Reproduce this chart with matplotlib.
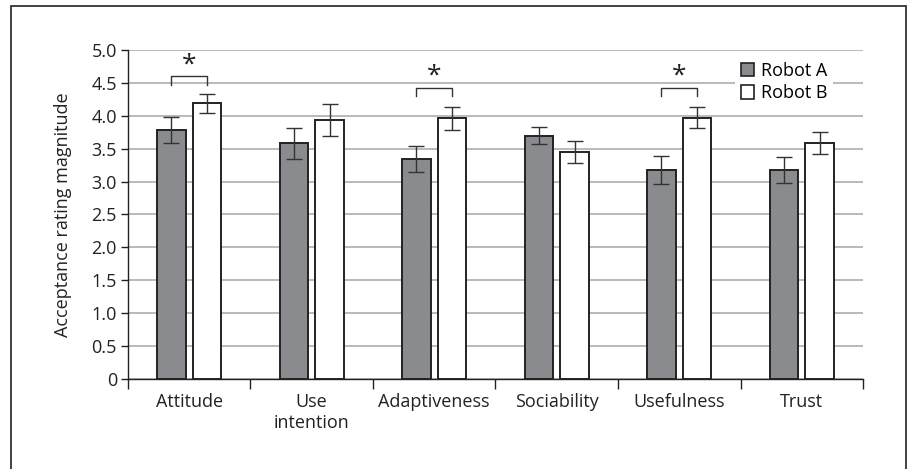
import numpy as np
import matplotlib
matplotlib.use("Agg")
import matplotlib.pyplot as plt
from matplotlib.patches import Patch, Rectangle

plt.rcParams['font.family'] = ['Open Sans', 'DejaVu Sans']

categories = ["Attitude", "Use\nintention", "Adaptiveness", "Sociability", "Usefulness", "Trust"]
robot_a = [3.78, 3.58, 3.34, 3.70, 3.18, 3.18]
robot_a_err = [0.20, 0.24, 0.20, 0.13, 0.21, 0.20]
robot_b = [4.19, 3.94, 3.96, 3.45, 3.97, 3.59]
robot_b_err = [0.14, 0.24, 0.17, 0.16, 0.16, 0.17]
# significant pairs: (category index, bracket height)
sig_pairs = [(0, 4.60), (2, 4.43), (4, 4.43)]
yticks = [0, 0.5, 1.0, 1.5, 2.0, 2.5, 3.0, 3.5, 4.0, 4.5, 5.0]
ytick_labels = ["0", "0.5", "1.0", "1.5", "2.0", "2.5", "3.0", "3.5", "4.0", "4.5", "5.0"]

FS = 13

fig = plt.figure(figsize=(9.09, 4.69), dpi=100)
ax = fig.add_axes([0.1408, 0.1919, 0.8086, 0.7015])

# outer frame around the figure
fig.patches.append(Rectangle((11 / 909, -0.1), 895 / 909, 1.1 - 6 / 469,
                             transform=fig.transFigure, fill=False,
                             edgecolor="#333333", linewidth=1.3))

x = np.arange(len(categories))
w = 0.23
off = 0.145
ekw = dict(ecolor="#333333", elinewidth=1.0, capsize=5.5, capthick=1.0)
ax.bar(x - off, robot_a, w, color="#8a8b8f", edgecolor="#222222", linewidth=1.4,
       yerr=robot_a_err, error_kw=ekw, zorder=3, label="Robot A")
ax.bar(x + off, robot_b, w, color="white", edgecolor="#222222", linewidth=1.4,
       yerr=robot_b_err, error_kw=ekw, zorder=3, label="Robot B")

for i, h in sig_pairs:
    ax.plot([i - off, i - off, i + off, i + off], [h - 0.13, h, h, h - 0.13],
            color="#333333", linewidth=1.0, zorder=4)
    ax.text(i, h - 0.02, "*", ha="center", va="bottom", fontsize=19, color="#222222")

ax.set_xlim(-0.5, len(categories) - 0.5)
ax.set_ylim(0, 5.0)
ax.set_yticks(yticks)
ax.set_yticklabels(ytick_labels)
ax.yaxis.grid(True, color="#b4b4b4", linewidth=1.3, zorder=0)
ax.set_axisbelow(True)

ax.set_xticks(np.arange(len(categories) + 1) - 0.5)
ax.set_xticklabels([])
ax.set_xticks(x, minor=True)
ax.set_xticklabels(categories, minor=True, fontsize=FS, color="#222222", linespacing=1.2)
ax.tick_params(axis="x", which="major", length=7, width=1, direction="out", color="#222222")
ax.tick_params(axis="x", which="minor", length=0, pad=10)
ax.tick_params(axis="y", length=5, width=1, direction="out", labelsize=FS,
               labelcolor="#222222", color="#222222", pad=3)

for s in ["top", "right"]:
    ax.spines[s].set_visible(False)
ax.spines["left"].set_color("#222222")
ax.spines["bottom"].set_color("#222222")
ax.spines["left"].set_linewidth(1.0)
ax.spines["bottom"].set_linewidth(1.0)

ax.set_ylabel("Acceptance rating magnitude", fontsize=FS, color="#222222", labelpad=14)

handles = [Patch(facecolor="#8a8b8f", edgecolor="#222222", linewidth=1.2, label="Robot A"),
           Patch(facecolor="white", edgecolor="#222222", linewidth=1.2, label="Robot B")]
leg = ax.legend(handles=handles, loc="upper left", bbox_to_anchor=(0.814, 1.008),
                frameon=True, fancybox=False, edgecolor="none", facecolor="white",
                framealpha=1, fontsize=FS, handlelength=0.75, handleheight=0.75,
                handletextpad=0.4, labelspacing=0.25, borderpad=0.3)
leg.set_zorder(5)

fig.savefig("out.png", dpi=100)
